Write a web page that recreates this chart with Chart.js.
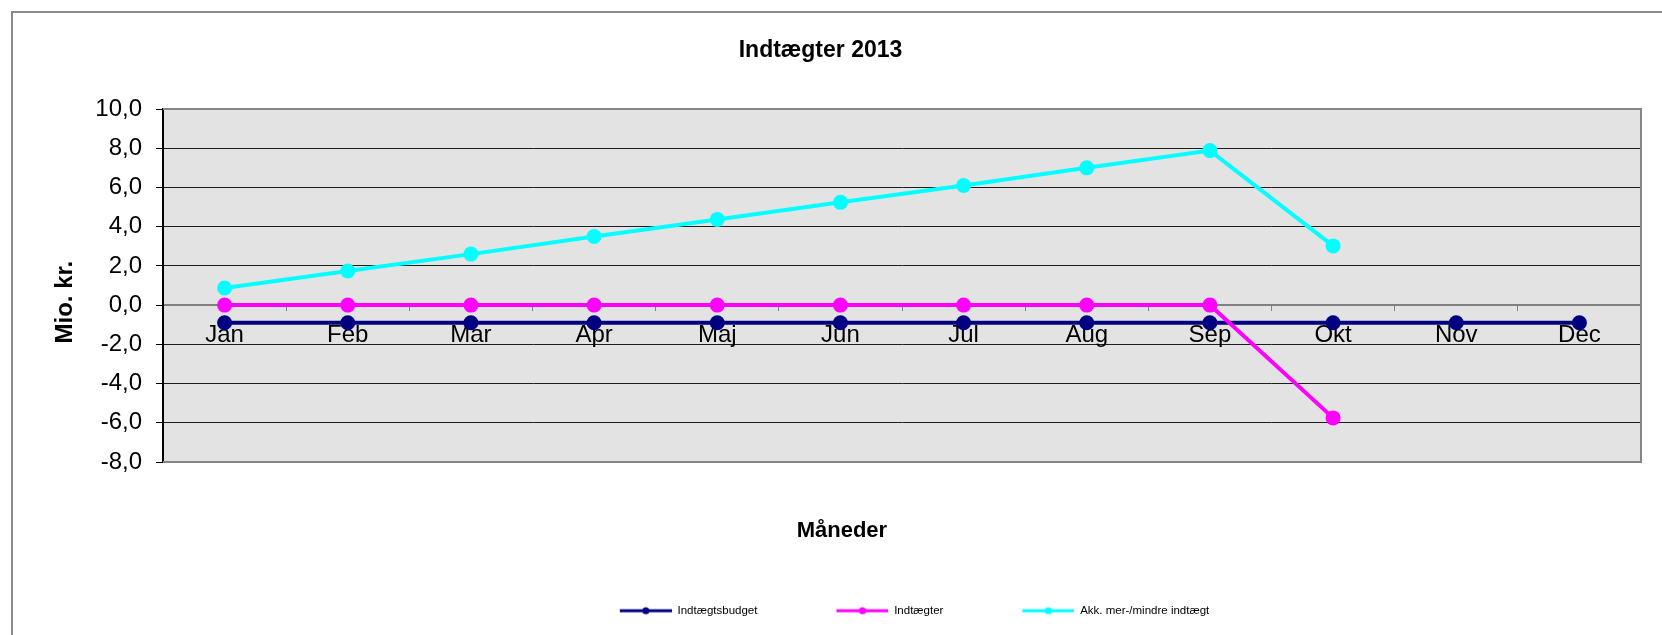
<!DOCTYPE html>
<html>
<head>
<meta charset="utf-8">
<script src="https://cdn.jsdelivr.net/npm/chart.js@4.4.0/dist/chart.umd.min.js"></script>
<style>
  html, body { margin: 0; padding: 0; background: #fff; overflow: hidden; }
  #frame { position: absolute; left: 11px; top: 11px; width: 1700px; height: 700px; border: 2px solid #8c8c8c; box-sizing: border-box; }
  #wrap { position: absolute; left: 0; top: 0; width: 1662px; height: 635px; }
</style>
</head>
<body>
<div id="frame"></div>
<div id="wrap"><canvas id="chart"></canvas></div>
<script>
  // ---- data ----
  const months     = ['Jan', 'Feb', 'Mar', 'Apr', 'Maj', 'Jun', 'Jul', 'Aug', 'Sep', 'Okt', 'Nov', 'Dec'];
  const budget     = [-0.9, -0.9, -0.9, -0.9, -0.9, -0.9, -0.9, -0.9, -0.9, -0.9, -0.9, -0.9];
  const indtaegter = [0, 0, 0, 0, 0, 0, 0, 0, 0, -5.75, null, null];
  const akk        = [0.87, 1.74, 2.6, 3.5, 4.37, 5.24, 6.1, 7.0, 7.88, 3.02, null, null];
  const yMin = -8, yMax = 10, yStep = 2;

  const FONT = "Arial, 'Liberation Sans', sans-serif";
  const NB = '\u00a0';

  // legend sample: blank lead-in, then a line with a dot
  const LEAD = 25, SAMPLE = 52;
  function legendImg(color) {
    const c = document.createElement('canvas');
    c.width = LEAD + SAMPLE; c.height = 10;
    const g = c.getContext('2d');
    g.strokeStyle = color; g.lineWidth = 3;
    g.beginPath(); g.moveTo(LEAD, 5); g.lineTo(LEAD + SAMPLE, 5); g.stroke();
    g.fillStyle = color;
    g.beginPath(); g.arc(LEAD + SAMPLE / 2, 5, 3.5, 0, Math.PI * 2); g.fill();
    return c;
  }

  function series(label, data, color, order) {
    return {
      label, data, order,
      borderColor: color,
      backgroundColor: color,
      borderWidth: 4,
      pointRadius: 7.5,
      pointBorderWidth: 0,
      pointBackgroundColor: color,
      tension: 0,
      spanGaps: false
    };
  }

  const plotBg = {
    id: 'plotBg',
    beforeDraw(chart) {
      const { ctx, chartArea: a } = chart;
      ctx.save();
      ctx.fillStyle = '#e3e3e3';
      ctx.fillRect(a.left, a.top, a.width, a.height);
      ctx.restore();
    },
    beforeDatasetsDraw(chart) {
      const { ctx, chartArea: a } = chart;
      ctx.save();
      ctx.strokeStyle = '#858585';
      ctx.lineWidth = 2;
      ctx.beginPath();
      ctx.moveTo(a.left, a.top);
      ctx.lineTo(a.right, a.top);
      ctx.lineTo(a.right, a.bottom);
      ctx.lineTo(a.left, a.bottom);
      ctx.stroke();
      ctx.restore();
    }
  };

  new Chart(document.getElementById('chart'), {
    type: 'line',
    data: {
      labels: months,
      datasets: [
        series('Indtægtsbudget', budget, '#000080', 2),
        series('Indtægter', indtaegter, '#ff00ff', 1),
        series('Akk. mer-/mindre indtægt', akk, '#00ffff', 0)
      ]
    },
    options: {
      responsive: true,
      maintainAspectRatio: false,
      animation: false,
      layout: { padding: { left: 0, right: 21, top: 0, bottom: 8.5 } },
      scales: {
        x: {
          type: 'category',
          position: { y: 0 },
          offset: true,
          grid: { display: true, drawOnChartArea: false, drawTicks: true, tickLength: 5, tickColor: '#808080', offset: true },
          border: { display: true, color: '#808080', width: 2 },
          ticks: { color: '#000', font: { family: FONT, size: 24 }, padding: 11, maxRotation: 0, autoSkip: false }
        },
        y: {
          min: yMin, max: yMax,
          ticks: {
            stepSize: yStep, color: '#000', padding: 14,
            font: { family: FONT, size: 24 },
            callback: (v) => Number(v).toFixed(1).replace('.', ',')
          },
          grid: {
            color: (c) => (c.tick && (c.tick.value === yMax || c.tick.value === yMin || c.tick.value === 0)) ? '#808080' : '#1e1e1e',
            lineWidth: 1, tickLength: 7, tickColor: '#000'
          },
          border: { color: '#000', width: 2 },
          title: {
            display: true, text: 'Mio. kr.' + NB.repeat(5), color: '#000',
            font: { family: FONT, size: 24, weight: 'bold' },
            padding: { top: 50.6, bottom: 0 }
          },
          afterFit: (s) => { s.width = 163; }
        }
      },
      plugins: {
        title: {
          display: true, text: 'Indtægter 2013', color: '#000',
          font: { family: FONT, size: 23, weight: 'bold' },
          padding: { top: 37, bottom: 44.4 }
        },
        subtitle: {
          display: true, position: 'bottom', text: NB.repeat(7) + 'Måneder', color: '#000',
          font: { family: FONT, size: 22, weight: 'bold' },
          padding: { top: 55.8, bottom: 6.8 }
        },
        legend: {
          position: 'bottom',
          fullSize: false,
          weight: 2000,
          labels: {
            usePointStyle: true,
            pointStyleWidth: LEAD + SAMPLE,
            padding: 54,
            color: '#000',
            font: { family: FONT, size: 11.5 },
            generateLabels: (chart) => chart.data.datasets.map((ds, i) => ({
              text: ds.label,
              pointStyle: legendImg(ds.borderColor),
              fillStyle: ds.borderColor,
              strokeStyle: ds.borderColor,
              lineWidth: 0,
              hidden: false,
              datasetIndex: i,
              fontColor: '#000'
            }))
          }
        },
        tooltip: { enabled: false }
      }
    },
    plugins: [plotBg]
  });
</script>
</body>
</html>
